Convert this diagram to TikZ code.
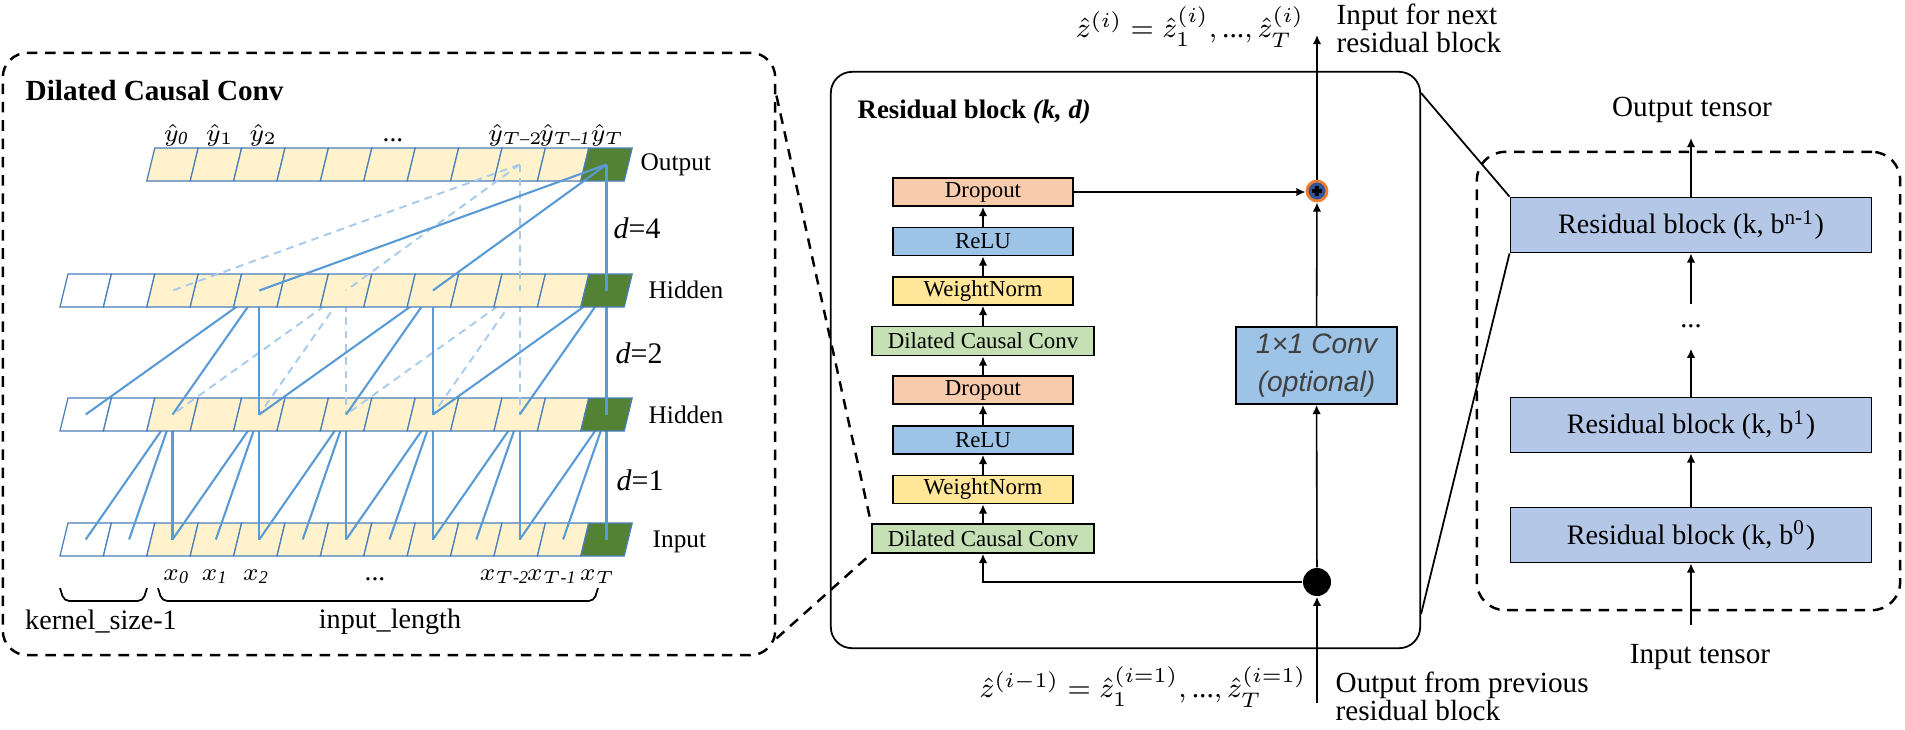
\documentclass[tikz,border=0pt]{standalone}
\RequirePackage{amsmath,amssymb}
\usepackage{fontspec}
\setmainfont{Liberation Serif}
\newfontfamily\convfont{Liberation Sans}
\usepackage{tikz}
\usetikzlibrary{positioning,calc,arrows.meta}

\definecolor{cellfill}{HTML}{FFF2CC}
\definecolor{cellgreen}{HTML}{548235}
\definecolor{cellline}{HTML}{4A7EBB}
\definecolor{linkblue}{HTML}{5B9BD5}
\definecolor{linklight}{HTML}{A9CBEB}
\definecolor{dropfill}{HTML}{F8CBAD}
\definecolor{relufill}{HTML}{9DC3E6}
\definecolor{wnfill}{HTML}{FFE699}
\definecolor{dccfill}{HTML}{C5E0B4}
\definecolor{resfill}{HTML}{B4C7E7}
\definecolor{plusring}{HTML}{ED7D31}
\definecolor{plusfill}{HTML}{2F5597}
\definecolor{convtext}{HTML}{404040}

\tikzset{
  cell/.style={draw=cellline, line width=0.35pt},
  link/.style={draw=linkblue, line width=0.6pt},
  linkdash/.style={draw=linklight, line width=0.55pt, dash pattern=on 2.2pt off 1.6pt},
  zoomdash/.style={draw=black, line width=0.7pt, dash pattern=on 3pt off 2.2pt},
  opbox/.style={draw=black, line width=0.5pt, minimum width=1.8cm, minimum height=0.28cm,
    inner sep=0pt, font=\fontsize{6.5}{7}\selectfont},
  blockbox/.style={draw=black, line width=0.5pt, fill=resfill, minimum width=3.61cm,
    minimum height=0.55cm, inner sep=0pt, font=\fontsize{8}{9}\selectfont},
  rowlab/.style={anchor=west, inner sep=0pt, font=\fontsize{7.2}{8}\selectfont},
  dlab/.style={anchor=west, inner sep=0pt, font=\fontsize{8.5}{9}\selectfont},
  seqlab/.style={anchor=base, inner sep=0pt, font=\fontsize{7.8}{9}\selectfont},
  txt/.style={inner sep=0pt, font=\fontsize{8.3}{8}\selectfont},
  flow/.style={-{Latex[length=2.6pt,width=2.4pt]}, line width=0.45pt},
}

% one row of slanted cells, #1 = top edge, #2 = first cell
\newcommand{\cellrow}[2]{%
  \foreach \k in {#2,...,12} {
    \ifnum\k<2 \def\cf{white}\else\ifnum\k=12 \def\cf{cellgreen}\else\def\cf{cellfill}\fi\fi
    \draw[cell, fill=\cf] ({60+43.4*\k},#1+33) -- ++(43.4,0) -- ++(8,-33) -- ++(-43.4,0) -- cycle;
  }}

\begin{document}
\begin{tikzpicture}[x=0.01cm,y=-0.01cm]
  \useasboundingbox (0,0) rectangle (1905,729);

  % (a) dilated causal convolution
  \node[zoomdash, rounded corners=7pt, minimum width=7.72cm, minimum height=6.02cm] (tcnpanel) at (389,354) {};
  \node[anchor=west, inner sep=0pt, font=\bfseries\fontsize{8.3}{9}\selectfont] (tcntitle) at (25,91) {Dilated Causal Conv};

  \foreach \r/\y in {in/523,hb/398,ha/274,out/148}
    \foreach \k in {0,...,12}
      \coordinate (\r\k) at ({60+43.4*\k+25.7},{\y+16.5});

  \cellrow{523}{0}
  \foreach \k in {2,4,...,12}
    \foreach \j in {0,1,2} {
      \pgfmathtruncatemacro{\m}{\k-\j}
      \draw[link] (hb\k) -- (in\m);
    }
  \cellrow{398}{0}
  \foreach \k in {6,10}
    \foreach \j in {0,2,4} {
      \pgfmathtruncatemacro{\m}{\k-\j}
      \draw[linkdash] (ha\k) -- (hb\m);
    }
  \foreach \k in {4,8,12}
    \foreach \j in {0,2,4} {
      \pgfmathtruncatemacro{\m}{\k-\j}
      \draw[link] (ha\k) -- (hb\m);
    }
  \cellrow{274}{0}
  \cellrow{148}{2}
  \foreach \j in {0,4,8} {
    \pgfmathtruncatemacro{\n}{10-\j}
    \draw[linkdash] (out10) -- (ha\n);
  }
  \foreach \j in {0,4,8} {
    \pgfmathtruncatemacro{\m}{12-\j}
    \draw[link] (out12) -- (ha\m);
  }

  \foreach \k/\dx/\t in {2/4/{\hat{y}_{\textit{0}}},3/4/{\hat{y}_1},4/4/{\hat{y}_2},10/-4/{\hat{y}_{T\text{–}2}},11/2/{\hat{y}_{T\text{–}\textit{1}}},12/1/{\hat{y}_T}}
    \node[seqlab, font=\fontsize{7.5}{9}\selectfont] (ylab\k) at ($(out\k)+(\dx,-23.5)$) {$\t$};
  \node[seqlab] (ydots) at (393,141) {...};
  \foreach \k/\dx/\t in {2/4/{x_{\textit{0}}},3/-1/{x_{\textit{1}}},4/-3/{x_{\textit{2}}},10/-15/{x_{T\textit{-2}}},11/-11/{x_{T\textit{-1}}},12/-9/{x_T}}
    \node[seqlab, font=\fontsize{7.3}{9}\selectfont] (xlab\k) at ($(in\k)+(\dx,40.5)$) {$\t$};
  \node[seqlab] (xdots) at (375,580) {...};

  \node[rowlab] (lout) at (640,165) {Output};
  \node[dlab] (ld4) at (613,228) {\textit{d}=4};
  \node[rowlab] (lhida) at (648,290) {Hidden};
  \node[dlab] (ld2) at (615,353) {\textit{d}=2};
  \node[rowlab] (lhidb) at (648,415) {Hidden};
  \node[dlab] (ld1) at (616,480) {\textit{d}=1};
  \node[rowlab] (lin) at (652,542) {Input};

  \draw[line width=0.5pt, rounded corners=1.5pt] (60,588) -- (64,601) -- (143,601) -- (147,588);
  \draw[line width=0.5pt, rounded corners=1.5pt] (158,588) -- (162,601) -- (594,601) -- (598,588);
  \node[txt, font=\fontsize{8}{9}\selectfont] (lkernel) at (101,622) {kernel\_size-1};
  \node[txt, font=\fontsize{8}{9}\selectfont] (llength) at (390,622) {input\_length};

  % (b) residual block
  \node[draw, line width=0.5pt, rounded corners=6pt, minimum width=5.89cm, minimum height=5.76cm] (resblk) at (1125.5,360) {};
  \node[anchor=west, inner sep=0pt, font=\bfseries\fontsize{7.6}{9}\selectfont] (restitle) at (857,112) {Residual block \textit{(k, d)}};

  \node[opbox, fill=dropfill] (drop2) at (983,192) {Dropout};
  \node[opbox, fill=relufill] (relu2) at (983,241.5) {ReLU};
  \node[opbox, fill=wnfill] (wn2) at (983,291) {WeightNorm};
  \node[opbox, fill=dccfill, minimum width=2.22cm, minimum height=0.29cm] (dcc2) at (983,341) {Dilated Causal Conv};
  \node[opbox, fill=dropfill] (drop1) at (983,390) {Dropout};
  \node[opbox, fill=relufill] (relu1) at (983,440) {ReLU};
  \node[opbox, fill=wnfill] (wn1) at (983,489.5) {WeightNorm};
  \node[opbox, fill=dccfill, minimum width=2.22cm, minimum height=0.29cm] (dcc1) at (983,538.5) {Dilated Causal Conv};
  \draw[flow] (dcc1) -- (wn1);
  \draw[flow] (wn1) -- (relu1);
  \draw[flow] (relu1) -- (drop1);
  \draw[flow] (drop1) -- (dcc2);
  \draw[flow] (dcc2) -- (wn2);
  \draw[flow] (wn2) -- (relu2);
  \draw[flow] (relu2) -- (drop2);

  \node[draw=black, line width=0.5pt, fill=relufill, minimum width=1.61cm, minimum height=0.77cm,
    inner sep=0pt, align=center, text=convtext, font=\convfont\itshape\fontsize{8}{11}\selectfont] (conv1x1) at (1316.5,365.5) {1×1 Conv\\(optional)};
  \node[circle, fill=black, minimum size=0.28cm, inner sep=0pt] (skipdot) at (1317,582) {};
  \node[circle, draw=plusring, line width=0.8pt, fill=plusfill, minimum size=0.2cm, inner sep=0pt] (addop) at (1317,191) {};
  \draw[line width=0.9pt] ($(addop)+(-5,0)$) -- ($(addop)+(5,0)$);
  \draw[line width=0.9pt] ($(addop)+(0,-5)$) -- ($(addop)+(0,5)$);
  \coordinate (mainbot) at (1317,703);
  \coordinate (maintop) at (1317,35);

  \draw[flow] (mainbot) -- (skipdot);
  \draw[flow] (skipdot) -- (conv1x1);
  \draw[flow] (conv1x1) -- (addop);
  \draw[flow] (addop) -- (maintop);
  \draw[flow] (skipdot) -| (dcc1);
  \draw[flow] (drop2.east) -- (drop2.east -| addop.west);

  \node[txt, font=\fontsize{8.4}{10}\selectfont] (ztop) at (1190,27) {$\hat{z}^{(i)} = \hat{z}_1^{(i)}, \text{...}, \hat{z}_T^{(i)}$};
  \node[txt, font=\fontsize{8.4}{10}\selectfont] (zbot) at (1143,687) {$\hat{z}^{(i-1)} = \hat{z}_1^{(i=1)}, \text{...}, \hat{z}_T^{(i=1)}$};
  \node[txt, anchor=west, align=left] (lnext) at (1336,28) {Input for next\\residual block};
  \node[txt, anchor=west, align=left] (lprev) at (1335,696) {Output from previous\\residual block};

  \draw[zoomdash] ($(tcnpanel.north east)+(0,44)$) -- (dcc1.north west);
  \draw[zoomdash] ($(tcnpanel.south east)+(0,-18)$) -- (dcc1.south west);

  % (c) stack of residual blocks
  \node[zoomdash, rounded corners=8pt, minimum width=4.23cm, minimum height=4.58cm] (stackpanel) at (1688.5,381) {};
  \node[blockbox] (rbn) at (1691,225) {Residual block (k, b\textsuperscript{n-1})};
  \node[inner sep=0pt, minimum height=0.43cm, font=\fontsize{8}{9}\selectfont] (rdots) at (1691,326.5) {...};
  \node[blockbox] (rb1) at (1691,425) {Residual block (k, b\textsuperscript{1})};
  \node[blockbox] (rb0) at (1691,535) {Residual block (k, b\textsuperscript{0})};
  \coordinate (outtip) at (1691,138);
  \coordinate (intail) at (1691,625);
  \node[txt] (louttensor) at (1692,110) {Output tensor};
  \node[txt] (lintensor) at (1700,657) {Input tensor};
  \draw[flow] (intail) -- (rb0);
  \draw[flow] (rb0) -- (rb1);
  \draw[flow] (rb1) -- (rdots);
  \draw[flow] (rdots) -- (rbn);
  \draw[flow] (rbn) -- (outtip);

  \draw[line width=0.5pt] ($(resblk.north east)+(0,22)$) -- (rbn.north west);
  \draw[line width=0.5pt] (rbn.south west) -- ($(resblk.south east)+(0,-35)$);
\end{tikzpicture}
\end{document}
